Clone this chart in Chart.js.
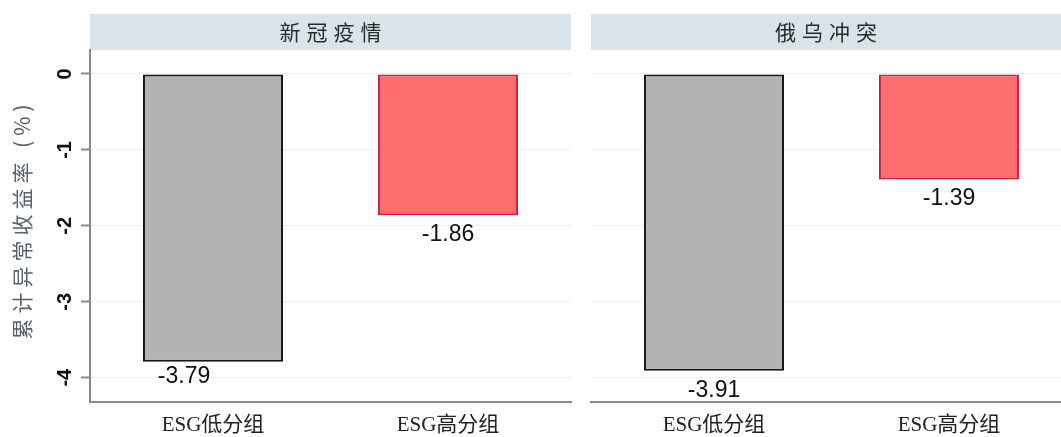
<!DOCTYPE html>
<html>
<head>
<meta charset="utf-8">
<script src="https://cdn.jsdelivr.net/npm/chart.js@4.4.0/dist/chart.umd.min.js"></script>
<style>
html, body { margin: 0; padding: 0; background: #fff; overflow: hidden; width: 1061px; height: 437px; }
canvas { position: absolute; top: 0; }
#left { left: 0; }
#right { left: 580px; }
</style>
</head>
<body>
<canvas id="left" width="578" height="437"></canvas>
<canvas id="right" width="481" height="437"></canvas>
<script>
// data
const categories = ['ESG低分组', 'ESG高分组'];
const panelTitles = ['新冠疫情', '俄乌冲突'];
const covidValues = [-3.79, -1.86];
const warValues = [-3.91, -1.39];
const yTicks = [0, -1, -2, -3, -4];
const yTitle = '累计异常收益率 (%)';

const barFill = ['#b3b3b3', '#ff6e6e'];
const barLine = ['#151515', '#d21f45'];
const axisGray = '#8a8a8a';

// header strip, panel title, category labels, value labels, y title
const panelDecor = {
  id: 'panelDecor',
  beforeDraw(chart, args, opts) {
    const ctx = chart.ctx, a = chart.chartArea;
    ctx.save();
    ctx.fillStyle = '#d9e4ea';
    ctx.fillRect(a.left, 14, a.right - a.left, 36);
    ctx.fillStyle = '#2a2a2a';
    ctx.font = '21px "Noto Sans CJK SC"';
    ctx.letterSpacing = '6px';
    ctx.textAlign = 'center';
    ctx.textBaseline = 'middle';
    ctx.fillText(opts.title, (a.left + a.right) / 2 + 3, 32);
    if (opts.yTitle) {
      ctx.letterSpacing = '5px';
      ctx.translate(22, (a.top + a.bottom) / 2 - 4);
      ctx.rotate(-Math.PI / 2);
      ctx.fillStyle = '#56606a';
      ctx.fillText(opts.yTitle, 2.5, 0);
    }
    ctx.restore();
  },
  afterDatasetsDraw(chart, args, opts) {
    const ctx = chart.ctx;
    const meta = chart.getDatasetMeta(0);
    ctx.save();
    ctx.fillStyle = '#111';
    ctx.font = '23px "Liberation Sans"';
    ctx.textAlign = 'center';
    ctx.textBaseline = 'top';
    meta.data.forEach((bar, i) => {
      const v = chart.data.datasets[0].data[i].y;
      const [dx, dy] = opts.shift[i];
      ctx.fillText(v.toFixed(2), bar.x + dx, bar.y + 8 + dy);
    });
    ctx.restore();
  },
  afterDraw(chart) {
    const ctx = chart.ctx, xs = chart.scales.x;
    ctx.save();
    ctx.fillStyle = '#222';
    ctx.font = '21px "Liberation Serif", "Noto Sans CJK SC"';
    ctx.textAlign = 'center';
    ctx.textBaseline = 'middle';
    categories.forEach((c, i) => ctx.fillText(c, xs.getPixelForValue(i), 425));
    ctx.restore();
  }
};

function makePanel(id, title, values, cfg) {
  return new Chart(document.getElementById(id), {
    type: 'bar',
    data: {
      datasets: [{
        data: values.map((v, i) => ({ x: i, y: v })),
        backgroundColor: barFill,
        borderColor: barLine,
        borderWidth: 2,
        borderSkipped: false,
        barPercentage: 0.596,
        categoryPercentage: 1
      }]
    },
    options: {
      responsive: false,
      animation: false,
      events: [],
      layout: { padding: { top: 50, left: cfg.padLeft, right: cfg.padRight, bottom: 0 } },
      plugins: {
        legend: { display: false },
        tooltip: { enabled: false },
        panelDecor: { title: title, yTitle: cfg.showY ? yTitle : null, shift: cfg.shift }
      },
      scales: {
        x: {
          type: 'linear',
          offset: false,
          min: -0.5234,
          max: cfg.xMax,
          afterBuildTicks: s => { s.ticks = categories.map((c, i) => ({ value: i })); },
          ticks: { display: false },
          grid: { display: false, offset: false },
          border: { color: axisGray, width: 2 },
          afterFit: s => { s.height = 35; }
        },
        y: {
          min: -4.32,
          max: 0.316,
          bounds: 'data',
          afterBuildTicks: s => { s.ticks = yTicks.map(v => ({ value: v })); },
          ticks: {
            display: cfg.showY,
            minRotation: 90,
            maxRotation: 90,
            crossAlign: 'center',
            padding: 7,
            color: '#111',
            font: { family: '"Liberation Sans"', size: 20, weight: 'bold' }
          },
          grid: {
            color: '#e9eff2',
            lineWidth: 1,
            drawTicks: cfg.showY,
            tickLength: 9,
            tickColor: axisGray,
            tickWidth: 2
          },
          border: { display: cfg.showY, color: axisGray, width: 2 },
          afterFit: s => { s.width = cfg.showY ? 90 : 0; }
        }
      }
    },
    plugins: [panelDecor]
  });
}

makePanel('left', panelTitles[0], covidValues, { showY: true, padLeft: 0, padRight: 7, xMax: 1.5234, shift: [[-29, -5], [0, 0]] });
makePanel('right', panelTitles[1], warValues, { showY: false, padLeft: 11, padRight: 0, xMax: 1.4766, shift: [[0, 0], [0, 0]] });
</script>
</body>
</html>
